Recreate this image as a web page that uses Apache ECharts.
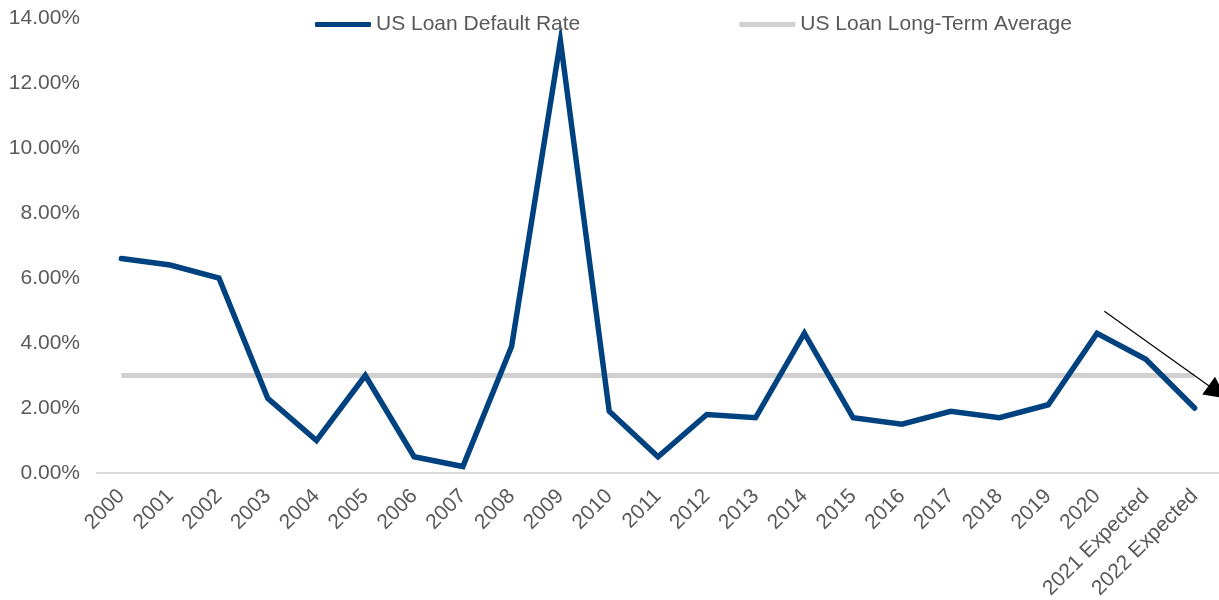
<!DOCTYPE html>
<html>
<head>
<meta charset="utf-8">
<script src="https://cdn.jsdelivr.net/npm/echarts@6/dist/echarts.min.js"></script>
<style>html,body{margin:0;padding:0;background:#fff;}#c{width:1219px;height:600px;}</style>
</head>
<body>
<div id="c"></div>
<script>
const categories = ['2000','2001','2002','2003','2004','2005','2006','2007','2008','2009','2010','2011','2012','2013','2014','2015','2016','2017','2018','2019','2020','2021 Expected','2022 Expected'];
const defaultRate = [6.6,6.4,6.0,2.3,1.0,3.0,0.5,0.2,3.9,13.3,1.9,0.5,1.8,1.7,4.3,1.7,1.5,1.9,1.7,2.1,4.3,3.5,2.0];
const longTermAvg = [3.0,3.0,3.0,3.0,3.0,3.0,3.0,3.0,3.0,3.0,3.0,3.0,3.0,3.0,3.0,3.0,3.0,3.0,3.0,3.0,3.0,3.0,3.0];
const yTicks = {min:0, max:14, interval:2};
// trend arrow annotation, in (category index, percent) space
const arrowFrom = [20.15, 4.98];
const arrowTo = [22.47, 2.49];

const chart = echarts.init(document.getElementById('c'));
const txt = '#595959';
const font = 'Liberation Sans, Arial, Helvetica, sans-serif';
const n = categories.length;
chart.setOption({
  animation: false,
  grid: {left: 97, right: 0, top: 18, bottom: 127, containLabel: false, outerBoundsMode: 'none'},
  legend: {
    left: 310, top: 9, itemGap: 159, itemWidth: 56, itemHeight: 5,
    textStyle: {color: txt, fontSize: 21, fontFamily: font},
    data: [
      {name: 'US Loan Default Rate', icon: 'roundRect', itemStyle: {color: '#00427f'}},
      {name: 'US Loan Long-Term Average', icon: 'roundRect', itemStyle: {color: '#d0d0d0'}}
    ]
  },
  xAxis: [{
    type: 'category', data: categories, boundaryGap: true,
    axisLine: {lineStyle: {color: '#d9d9d9', width: 2}},
    axisTick: {show: false},
    axisLabel: {rotate: 45, color: txt, fontSize: 21, fontFamily: font, margin: 20, interval: 0}
  }, {
    type: 'value', min: -0.5, max: n - 0.5, show: false
  }],
  yAxis: {
    type: 'value', min: yTicks.min, max: yTicks.max, interval: yTicks.interval,
    splitLine: {show: false}, axisLine: {show: false}, axisTick: {show: false},
    axisLabel: {color: txt, fontSize: 21, fontFamily: font, margin: 17, formatter: v => v.toFixed(2) + '%'}
  },
  series: [
    {
      name: 'US Loan Default Rate', type: 'line', data: defaultRate, symbol: 'none',
      lineStyle: {color: '#00427f', width: 5.5, cap: 'round', join: 'miter'}, itemStyle: {color: '#00427f'}, z: 3
    },
    {
      name: 'US Loan Long-Term Average', type: 'line', data: longTermAvg, symbol: 'none',
      lineStyle: {color: '#d0d0d0', width: 5}, itemStyle: {color: '#d0d0d0'}, z: 2
    },
    {
      name: 'trend', type: 'line', xAxisIndex: 1, data: [], symbol: 'none', z: 4,
      markLine: {
        silent: true, symbol: ['none', 'triangle'], symbolSize: [22, 22],
        lineStyle: {color: '#000', width: 1.2, type: 'solid'},
        label: {show: false},
        data: [[{coord: arrowFrom}, {coord: arrowTo}]]
      }
    }
  ]
});
</script>
</body>
</html>
